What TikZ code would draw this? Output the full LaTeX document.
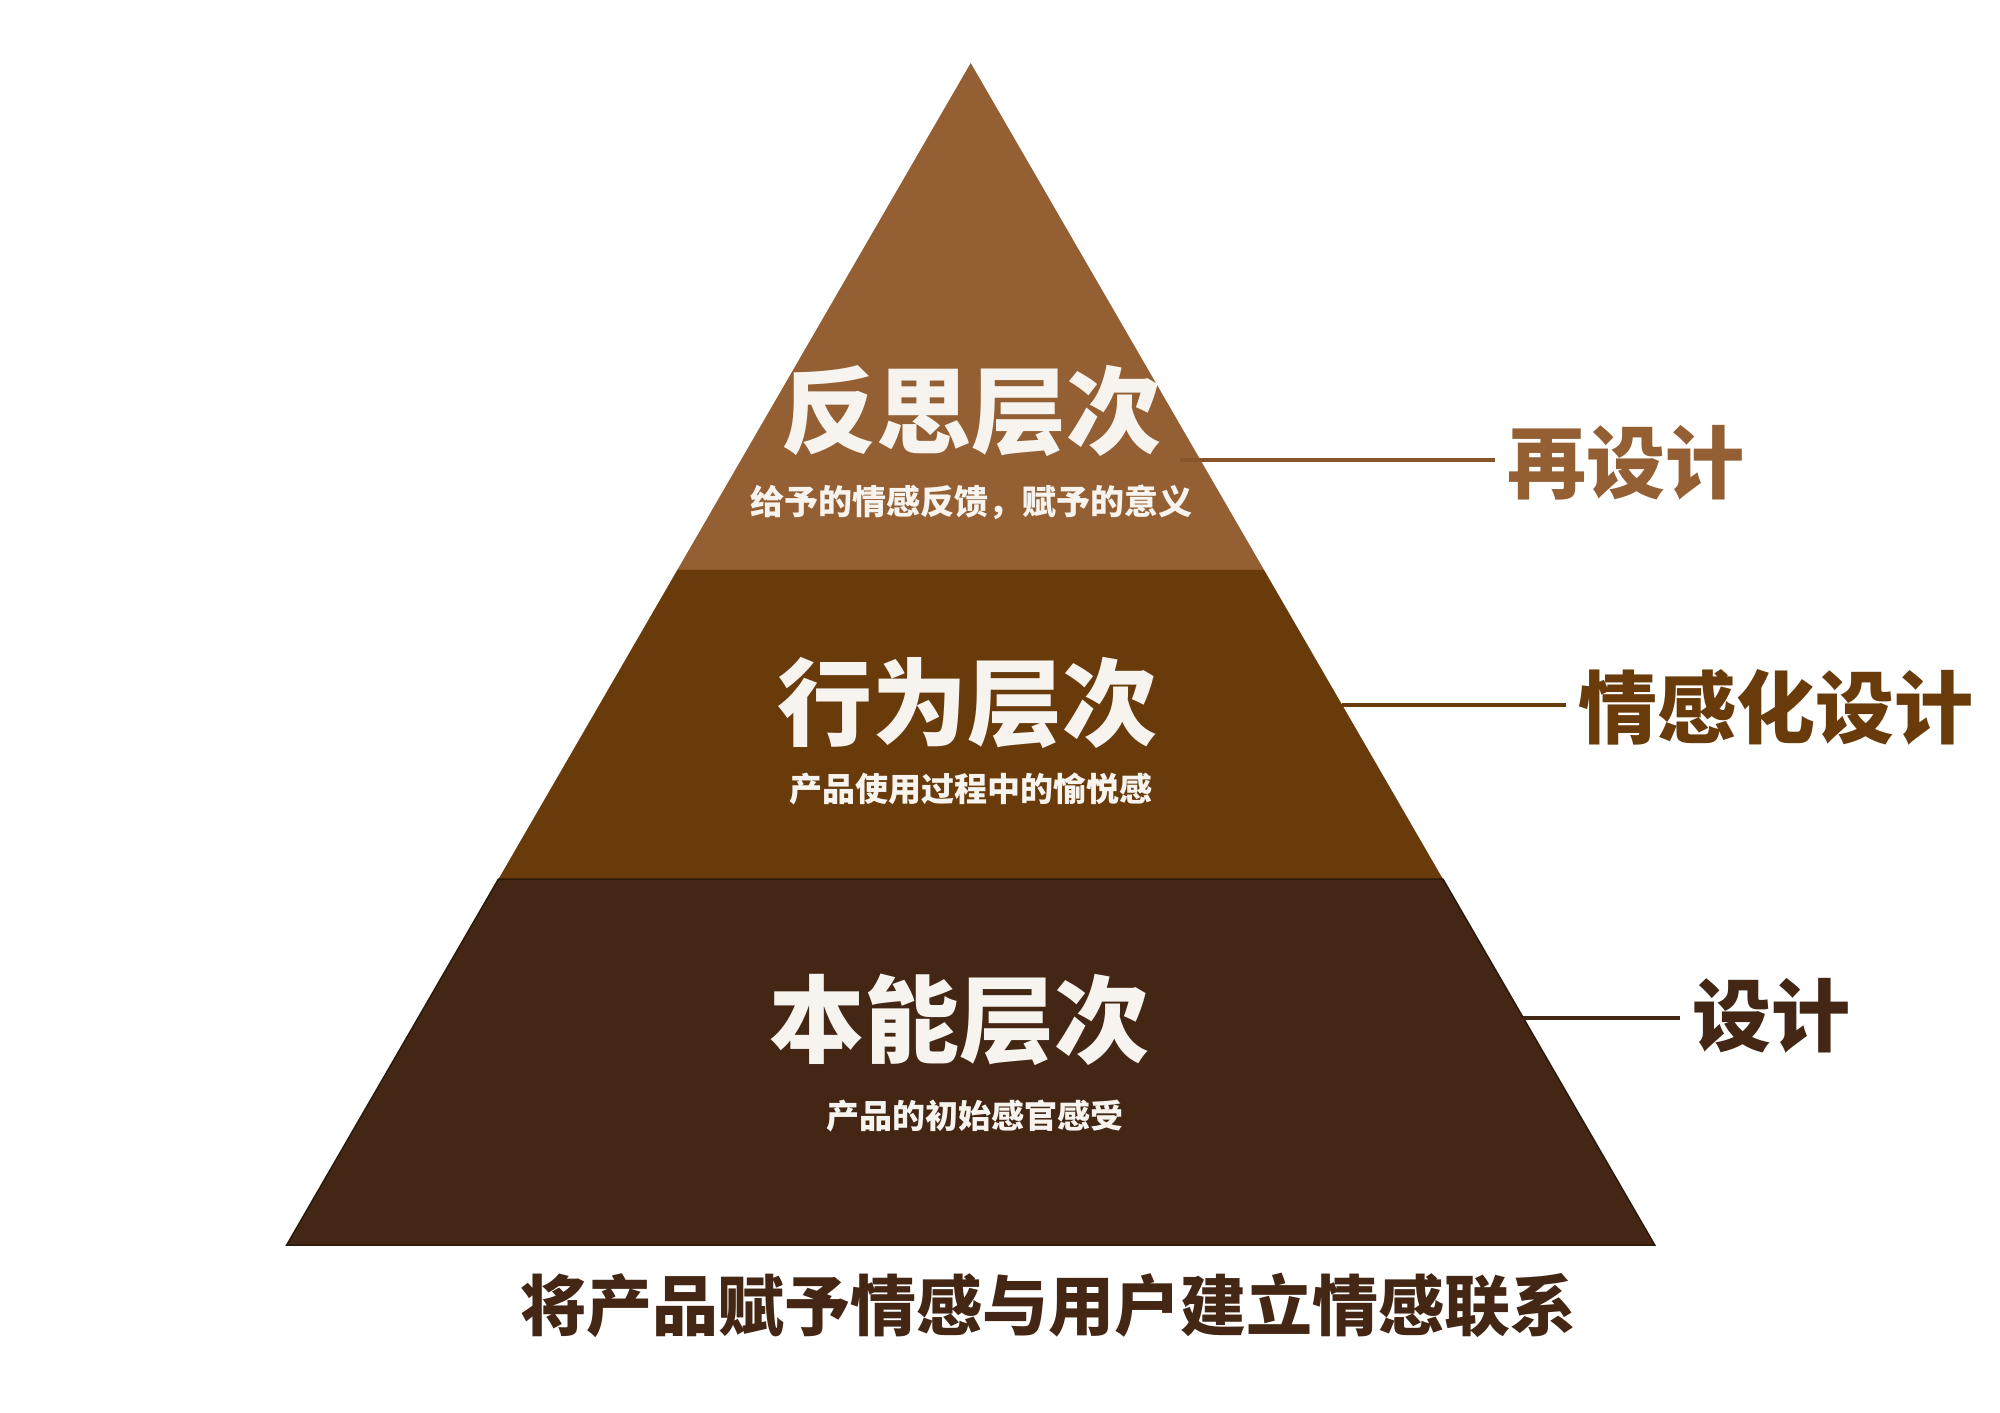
\documentclass[tikz,border=0pt]{standalone}
\usepackage{fontspec}
\newfontfamily\cjk{Noto Sans CJK SC}
\usetikzlibrary{calc}
\definecolor{topband}{HTML}{935F33}
\definecolor{topline}{HTML}{87552A}
\definecolor{midband}{HTML}{693B0B}
\definecolor{lowband}{HTML}{432613}
\definecolor{lowedge}{HTML}{2B190C}
\definecolor{paper}{HTML}{F7F4F0}
\tikzset{
  title/.style={inner sep=0pt, text=paper, font=\cjk\bfseries\fontsize{95}{95}\selectfont},
  subtitle/.style={inner sep=0pt, text=paper, font=\cjk\bfseries\fontsize{33}{33}\selectfont},
  sidelabel/.style={inner sep=0pt, anchor=west, font=\cjk\bfseries\fontsize{79}{79}\selectfont},
  leader/.style={line width=4pt, shorten >=12pt},
}
\begin{document}
\begin{tikzpicture}[x=1pt,y=-1pt]
\useasboundingbox (0,0) rectangle (2000,1413);
\fill[white] (0,0) rectangle (2000,1413);
% pyramid corners
\coordinate (A) at (970.7,63);
\coordinate (BL) at (286.7,1245);
\coordinate (BR) at (1654.7,1245);
\coordinate (L1) at ($(A)!0.4289!(BL)$);
\coordinate (R1) at ($(A)!0.4289!(BR)$);
\coordinate (L2) at ($(A)!0.6904!(BL)$);
\coordinate (R2) at ($(A)!0.6904!(BR)$);
% bands
\fill[topband] (A) -- (R1) -- (L1) -- cycle;
\fill[midband] (L1) -- (R1) -- (R2) -- (L2) -- cycle;
\fill[lowband, draw=lowedge, line width=1.5pt, line join=miter] (L2) -- (R2) -- (BR) -- (BL) -- cycle;
% texts inside
\node[title] (t1) at (971,411) {反思层次};
\node[subtitle, font=\cjk\bfseries\fontsize{34}{34}\selectfont] (s1) at (971,502) {给予的情感反馈，赋予的意义};
\node[title] (t2) at (967,703) {行为层次};
\node[subtitle] (s2) at (971,789) {产品使用过程中的愉悦感};
\node[title] (t3) at (959,1020) {本能层次};
\node[subtitle] (s3) at (975,1116) {产品的初始感官感受};
% side labels
\node[sidelabel, text=topband] (r1) at (1507,463) {再设计};
\node[sidelabel, text=midband] (r2) at (1578,707) {情感化设计};
\node[sidelabel, text=lowband] (r3) at (1692,1016) {设计};
% leader lines
\coordinate (e1) at (1180,460);
\coordinate (e2) at ($(A)!0.5431!(BR)$);
\coordinate (e3) at ($(A)!0.8080!(BR)$);
\draw[leader, topline] (e1) -- (e1 -| r1.west);
\draw[leader, midband] (e2) -- (e2 -| r2.west);
\draw[leader, lowband] (e3) -- (e3 -| r3.west);
% caption
\node[inner sep=0pt, text=lowband, font=\cjk\bfseries\fontsize{66}{66}\selectfont] (cap) at (1048,1305) {将产品赋予情感与用户建立情感联系};
\end{tikzpicture}
\end{document}
